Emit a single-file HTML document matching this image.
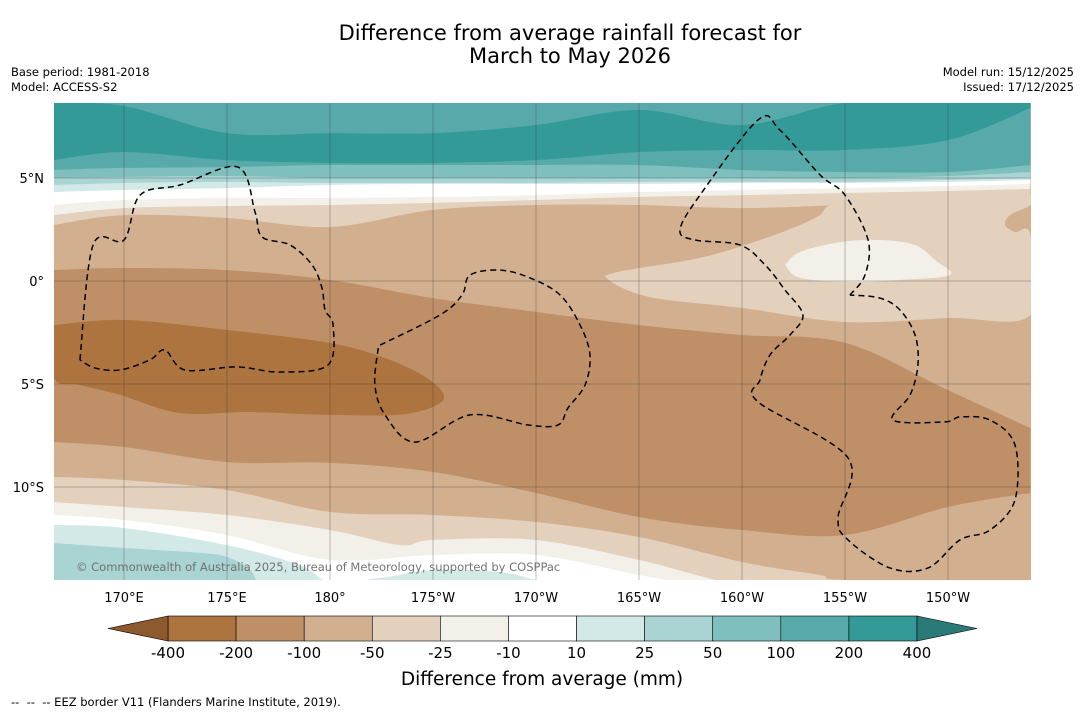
<!DOCTYPE html>
<html><head><meta charset="utf-8">
<style>
body{margin:0;background:#fff;font-family:"DejaVu Sans",sans-serif;}
#wrap{position:relative;width:1085px;height:713px;overflow:hidden;background:#fff;}
.t{position:absolute;white-space:nowrap;color:#000;}
</style></head><body>
<div id="wrap">
<div class="t" style="left:0;width:1140px;top:22px;text-align:center;font-size:21px;line-height:23px;">Difference from average rainfall forecast for<br>March to May 2026</div>
<div class="t" style="left:11px;top:65px;font-size:11.5px;line-height:15px;">Base period: 1981-2018<br>Model: ACCESS-S2</div>
<div class="t" style="right:11px;top:65px;font-size:11.5px;line-height:15px;text-align:right;">Model run: 15/12/2025<br>Issued: 17/12/2025</div>
<div class="t" style="left:11px;top:695px;font-size:11.5px;">--&nbsp; --&nbsp; -- EEZ border V11 (Flanders Marine Institute, 2019).</div>
<svg id="svg" width="1085" height="713" style="position:absolute;left:0;top:0"></svg>
</div>
<script>
// ---- data ----
const gridLons=[166.6,170,175,180,185,190,195,200,205,210,214];
const levelLabels=["-400","-200","-100","-50","-25","-10","10","25","50","100","200","400"];
const levelColors=["#ad743f","#bf9068","#d2b08f","#e3d0bd","#f3efe9","#ffffff","#d3e9e8","#a9d4d3","#7fbfbd","#58aaaa","#339a98"];
const underColor="#8c5a2e", overColor="#2a7a78";
const lonTicks=[170,175,180,185,190,195,200,205,210];
const lonTickLabels=["170°E","175°E","180°","175°W","170°W","165°W","160°W","155°W","150°W"];
const latTicks=[5,0,-5,-10];
const latTickLabels=["5°N","0°","5°S","10°S"];
const darkTop=[8.64,8.5,7.18,7.18,7.18,7.57,8.3,7.57,8.64,8.64,8.64];
const c200=[5.87,6.26,5.87,5.73,5.73,5.87,6.26,6.36,6.36,6.84,8.4];
const c100=[5.39,5.49,5.53,5.63,5.63,5.63,5.63,5.39,5.29,5.29,5.63];
const c50=[5.0,5.05,5.1,5.0,5.0,5.0,5.0,5.0,5.0,5.1,5.29];
const c25=[4.66,4.76,4.81,4.76,4.76,4.76,4.81,4.81,4.81,4.9,5.0];
const c10=[4.32,4.42,4.51,4.66,4.71,4.71,4.71,4.76,4.76,4.81,4.9];
const cm10=[3.69,3.93,4.03,4.03,4.08,4.17,4.32,4.42,4.51,4.61,4.71];
const cm25=[3.2,3.54,3.64,3.69,3.79,3.93,4.08,4.17,4.27,4.37,4.47];
const cm50=[2.72,3.2,3.06,2.62,3.45,3.69,3.69,3.54,3.69,3.79,3.93];
const midTop=[0.53,0.63,0.53,0.05,-0.83,-1.5,-2.14,-2.62,-3.0,-5.3,-7.14];
const midBot=[-7.82,-8.06,-8.79,-8.83,-9.27,-10.29,-11.46,-12.09,-12.33,-10.97,-10.29];
const coreLon=[166.6,170,175,180,182.91,184.85,185.49,183.64,180,176.12,172.72,169.81,167.86,166.6];
const coreLat=[-2.14,-1.89,-2.38,-3.01,-3.83,-4.81,-5.78,-6.46,-6.5,-6.36,-6.41,-5.53,-5.05,-4.71];
const wedgeLon=[203.79,205,210,214,214,213.01,212.77,213.25,214,214,210,205,200,195.53,193.54,193.98,197.96,200.87,202.82];
const wedgeLat=[3.2,3.93,4.03,4.17,3.69,3.2,2.72,2.38,2.23,-1.65,-1.8,-1.99,-1.31,-0.78,0.05,0.44,1.12,1.99,2.72];
const blobLon=[202.09,202.82,204.76,206.7,208.4,209.37,210.1,207.67,205.24,202.82];
const blobLat=[0.78,1.41,1.89,1.99,1.75,1.02,0.29,0.05,-0.05,0.15];
const b1Lon=[166.6,170,175,180,185,190,195,200,203.79,205,214];
const b1Lat=[-9.51,-9.66,-10.15,-11.21,-11.36,-11.7,-12.43,-13.64,-14.27,-14.51,-14.61];
const b2Lon=[166.6,170,175,180,183.4,185,190,195,200,205];
const b2Lat=[-10.73,-10.97,-11.36,-12.09,-12.82,-12.57,-12.57,-13.54,-14.76,-15.0];
const b3Lon=[166.6,170,175,180,185,190,195,197.96,200];
const b3Lat=[-11.36,-11.6,-12.33,-13.54,-13.3,-13.3,-14.27,-14.76,-15.0];
const b4Lon=[166.6,170,175,178.54,180,182.43,185,188.25,190,193.11];
const b4Lat=[-11.84,-11.99,-12.82,-13.79,-14.61,-14.42,-14.03,-14.13,-14.51,-15.24];
const b5Lon=[166.6,170,173.69,175,176.12,176.6];
const b5Lat=[-12.72,-12.96,-13.2,-13.4,-14.03,-15.0];
const eez1Lon=[167.86,168.5,170,170.78,172.72,175.53,176.36,176.7,178.06,179.13,179.61,179.76,180.15,179.9,177.57,175.49,172.96,171.99,171.26,169.81,168.59,167.86];
const eez1Lat=[-3.83,1.75,1.99,4.17,4.66,5.53,3.35,2.14,1.75,0.78,-0.34,-1.41,-2.14,-4.08,-4.42,-4.17,-4.32,-3.35,-3.83,-4.32,-4.22,-3.83];
const eez2Lon=[182.43,185.34,186.41,186.8,188.25,189.71,191.17,192.14,192.62,192.38,191.55,191.07,189.61,186.8,184.13,182.67,182.18,182.33,182.43];
const eez2Lat=[-3.11,-1.65,-0.68,0.29,0.53,0.15,-0.68,-2.14,-3.59,-5.05,-6.17,-6.99,-6.99,-6.5,-7.82,-6.5,-5.05,-3.35,-3.11];
const eez3Lon=[205.24,205.97,206.12,205,203.79,201.84,200.78,197.96,196.99,197.72,199.9,201.12,202.09,202.96,202.33,201.36,200.87,200.78,205.15,204.66,205.15,207.18,209.03,210.58,212.04,213.25,213.25,212.04,210.58,209.85,207.33,208.16,208.54,208.4,207.67,206.7,205.24];
const eez3Lat=[-0.68,0.29,1.99,4.17,5.15,7.33,7.82,4.17,2.48,1.99,1.75,0.78,-0.44,-1.65,-2.62,-3.59,-4.81,-5.87,-8.59,-11.5,-12.57,-13.93,-13.93,-12.57,-12.09,-10.63,-7.96,-6.75,-6.6,-6.84,-6.75,-5.53,-4.08,-2.62,-1.41,-0.83,-0.68];

const X0=54,X1=1031,Y0=103,Y1=580;
const xS=lon=>124+(lon-170)*20.6;
const yS=lat=>281-lat*20.6;
const NS="http://www.w3.org/2000/svg";
const FONT="DejaVu Sans, sans-serif";
const svg=document.getElementById('svg');
function el(tag,attrs,parent){const e=document.createElementNS(NS,tag);for(const k in attrs)e.setAttribute(k,attrs[k]);(parent||svg).appendChild(e);return e;}
function smooth(pts){let d="M"+pts[0][0]+","+pts[0][1];for(let i=0;i<pts.length-1;i++){const p0=pts[Math.max(0,i-1)],p1=pts[i],p2=pts[i+1],p3=pts[Math.min(pts.length-1,i+2)];
d+=" C"+(p1[0]+(p2[0]-p0[0])/6)+","+(p1[1]+(p2[1]-p0[1])/6)+" "+(p2[0]-(p3[0]-p1[0])/6)+","+(p2[1]-(p3[1]-p1[1])/6)+" "+p2[0]+","+p2[1];}return d;}
function pts(lons,lats){return lons.map((l,i)=>[xS(l),yS(lats[i])]);}
const defs=el('defs',{});
const cp=el('clipPath',{id:'mapclip'},defs);
el('rect',{x:X0,y:Y0,width:X1-X0,height:Y1-Y0},cp);
const g=el('g',{'clip-path':'url(#mapclip)'});


const base=el('rect',{x:X0,y:Y0,width:X1-X0,height:Y1-Y0,fill:levelColors[2]},g);


function fillAbove(lats,color,name){const p=pts(gridLons,lats);const d=smooth(p)+" L"+p[p.length-1][0]+",0 L"+p[0][0]+",0 Z";const e=el('path',{d:d,fill:color},g);

}
function fillBelow(lons,lats,color,name){const p=pts(lons,lats);const d=smooth(p)+" L"+(p[p.length-1][0]+5)+",720 L"+p[0][0]+",720 Z";const e=el('path',{d:d,fill:color},g);

}
function poly(lons,lats,color,name){const p=pts(lons,lats);p.push(p[0]);const e=el('path',{d:smooth(p)+"Z",fill:color},g);

}
fillAbove(cm50,levelColors[3],'band-minus50-minus25-top');
fillAbove(cm25,levelColors[4],'band-minus25-minus10-top');
fillAbove(cm10,levelColors[5],'band-near-zero-top');
fillAbove(c10,levelColors[6],'band-10-25-top');
fillAbove(c25,levelColors[7],'band-25-50-top');
fillAbove(c50,levelColors[8],'band-50-100-top');
fillAbove(c100,levelColors[9],'band-100-200-top');
(function(){const top=pts(gridLons,darkTop),bot=pts(gridLons,c200).reverse();const d=smooth(top)+" L"+bot[0][0]+","+bot[0][1]+smooth(bot).replace(/^M[^ ]+/,"")+" Z";
const e=el('path',{d:d,fill:levelColors[10]},g);

})();
poly(wedgeLon,wedgeLat,levelColors[3],'band-minus50-minus25-east');
poly(blobLon,blobLat,levelColors[4],'band-minus25-minus10-east');
(function(){const top=pts(gridLons,midTop),bot=pts(gridLons,midBot).reverse();const d=smooth(top)+" L"+bot[0][0]+","+bot[0][1]+smooth(bot).replace(/^M[^ ]+/,"")+" Z";
const e=el('path',{d:d,fill:levelColors[1]},g);

})();
poly(coreLon,coreLat,levelColors[0],'band-minus400-minus200');
fillBelow(b1Lon,b1Lat,levelColors[3],'band-minus50-minus25-south');
fillBelow(b2Lon,b2Lat,levelColors[4],'band-minus25-minus10-south');
fillBelow(b3Lon,b3Lat,levelColors[5],'band-near-zero-south');
fillBelow(b4Lon,b4Lat,levelColors[6],'band-10-25-south');
fillBelow(b5Lon,b5Lat,levelColors[7],'band-25-50-south');
lonTicks.forEach((lon,i)=>{const l=el('line',{x1:xS(lon),x2:xS(lon),y1:Y0,y2:Y1,stroke:'#333','stroke-width':0.5,'stroke-opacity':0.6},g);


const t=el('text',{x:xS(lon),y:602,'text-anchor':'middle','font-size':13,'font-family':FONT});t.textContent=lonTickLabels[i];

});
latTicks.forEach((lat,i)=>{const l=el('line',{x1:X0,x2:X1,y1:yS(lat),y2:yS(lat),stroke:'#333','stroke-width':0.5,'stroke-opacity':0.6},g);


const t=el('text',{x:44,y:yS(lat)+5,'text-anchor':'end','font-size':13,'font-family':FONT});t.textContent=latTickLabels[i];

});
[[eez1Lon,eez1Lat],[eez2Lon,eez2Lat],[eez3Lon,eez3Lat]].forEach(([lo,la])=>{const e=el('path',{d:smooth(pts(lo,la)),fill:'none',stroke:'#000','stroke-width':1.5,'stroke-dasharray':'6,4'},g);

});
const cr=el('text',{x:76,y:571,'font-size':11.5,fill:'#666','fill-opacity':0.9,'font-family':FONT},g);cr.textContent="© Commonwealth of Australia 2025, Bureau of Meteorology, supported by COSPPac";


const cbX0=168,cbX1=917,cbY=616,cbH=25,bw=(cbX1-cbX0)/levelColors.length;
const cb=el('g',{});


levelColors.forEach((c,i)=>{const r=el('rect',{x:cbX0+i*bw,y:cbY,width:bw,height:cbH,fill:c,stroke:'#000','stroke-width':0.6},cb);

});
const tl=el('path',{d:`M${cbX0},${cbY} L108,${cbY+cbH/2} L${cbX0},${cbY+cbH} Z`,fill:underColor,stroke:'#000','stroke-width':0.6},cb);


const tr=el('path',{d:`M${cbX1},${cbY} L977,${cbY+cbH/2} L${cbX1},${cbY+cbH} Z`,fill:overColor,stroke:'#000','stroke-width':0.6},cb);


levelLabels.forEach((s,i)=>{const t=el('text',{x:cbX0+i*bw,y:658,'text-anchor':'middle','font-size':15,'font-family':FONT},cb);t.textContent=s;

});
const ct=el('text',{x:542,y:685,'text-anchor':'middle','font-size':18.5,'font-family':FONT},cb);ct.textContent="Difference from average (mm)";


</script>
</body></html>
